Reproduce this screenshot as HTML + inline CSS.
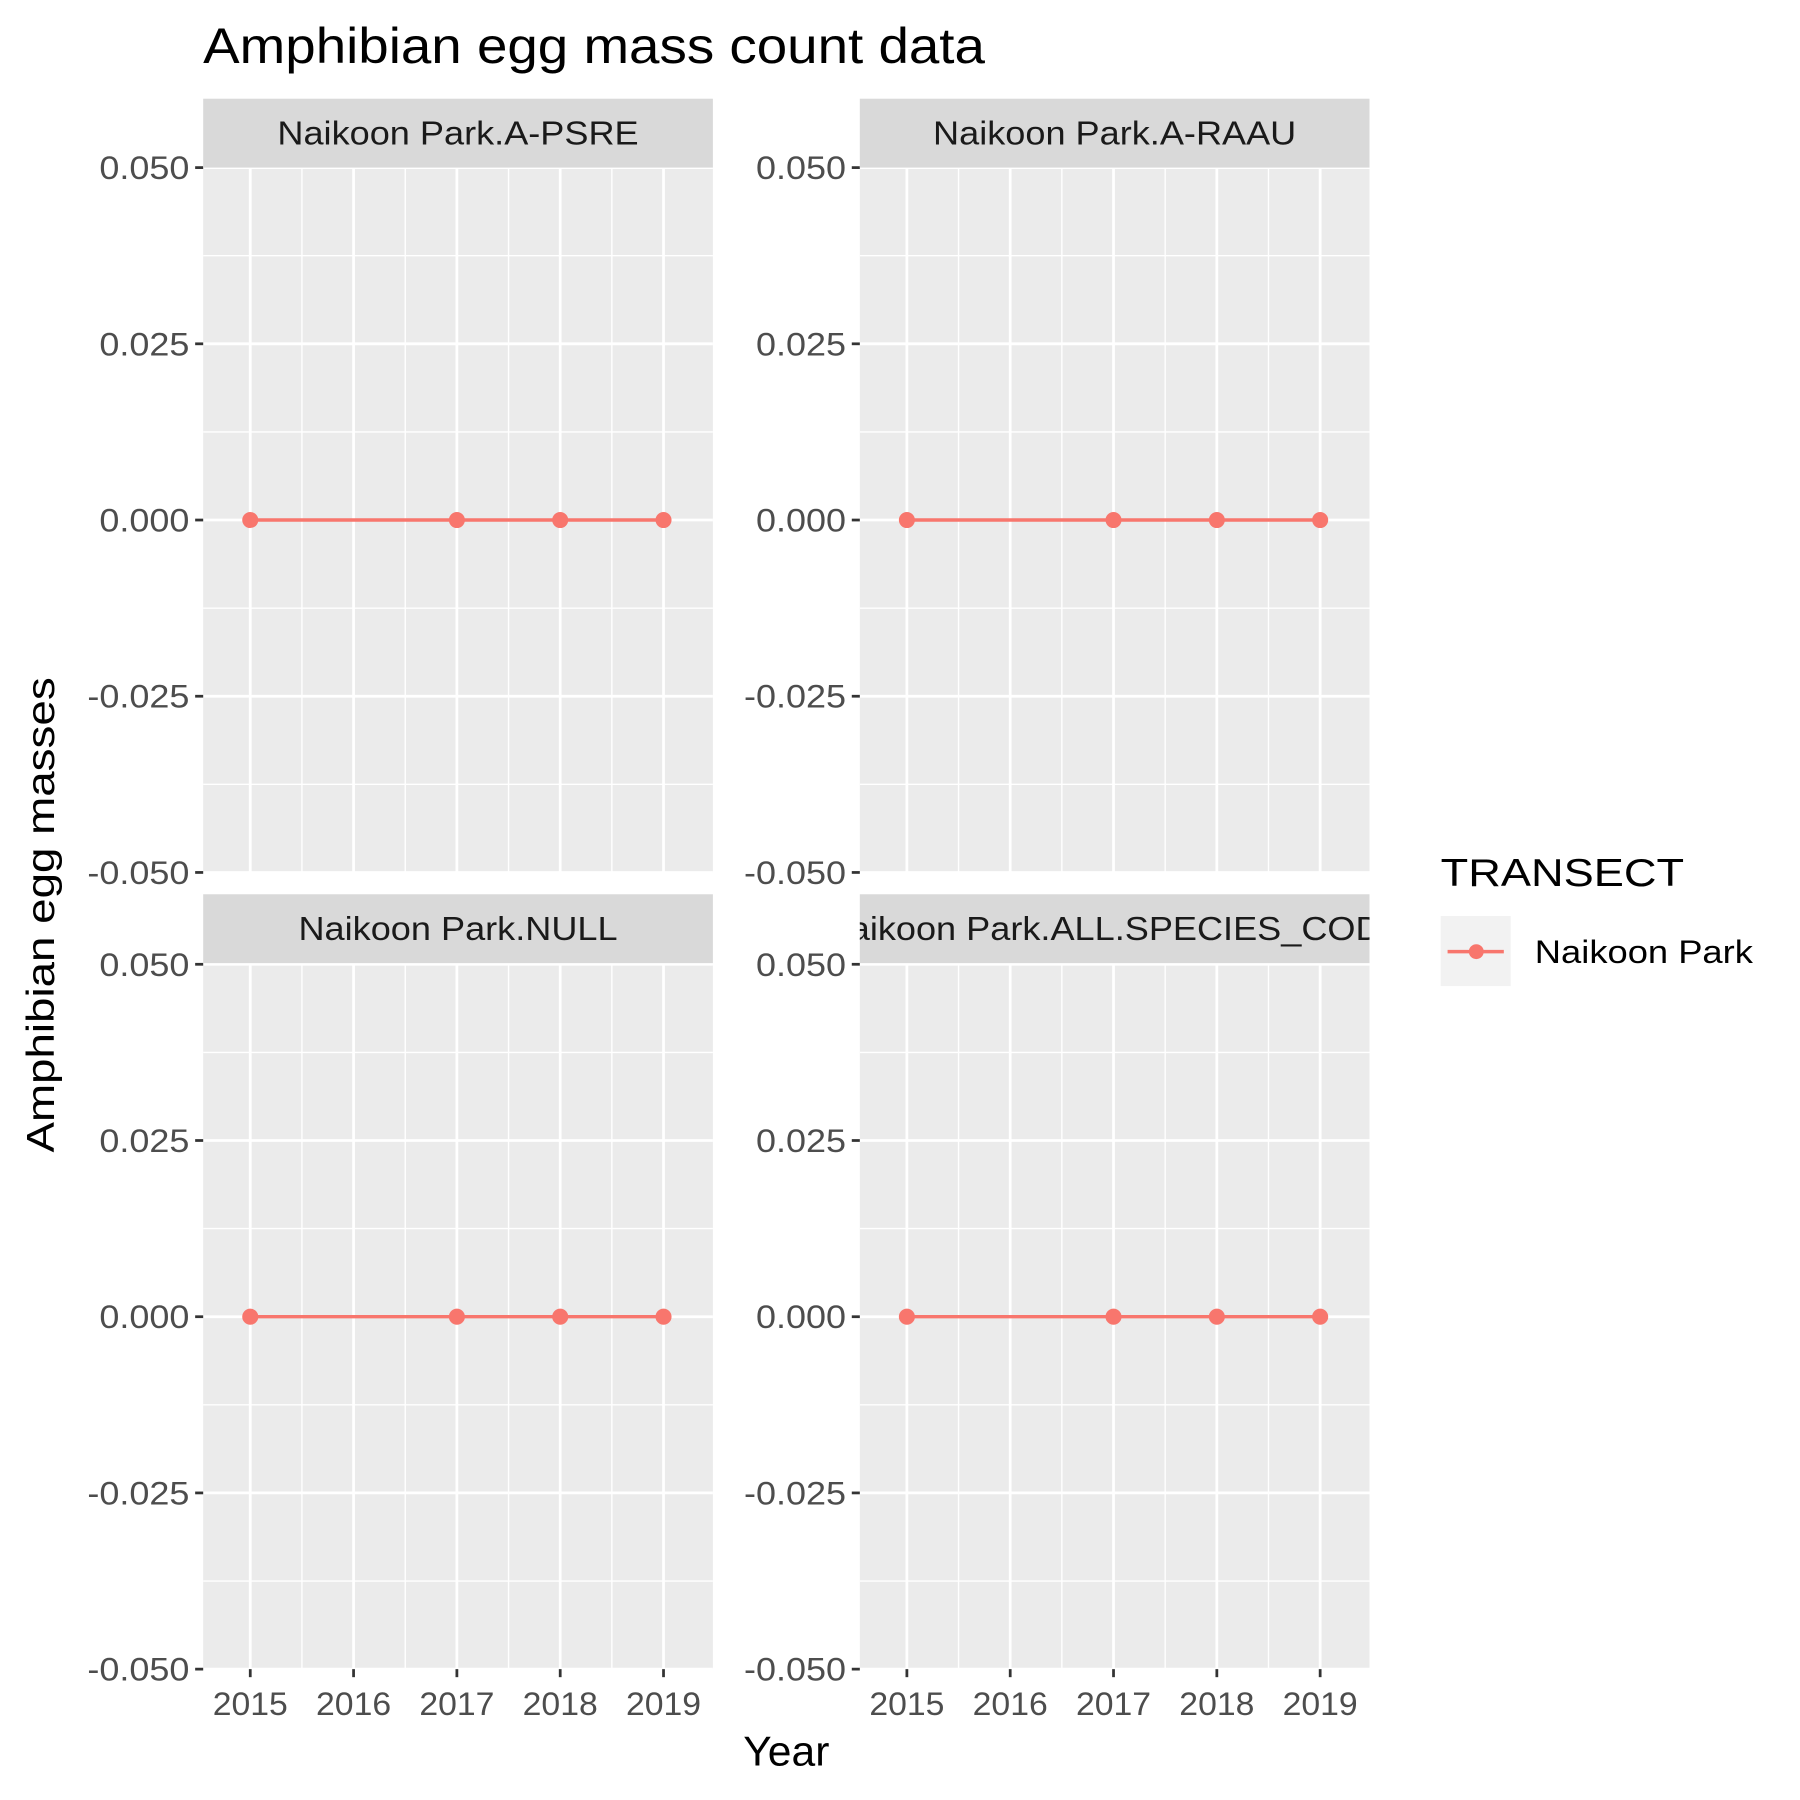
<!DOCTYPE html>
<html><head><meta charset="utf-8"><style>
html,body{margin:0;padding:0;background:#fff}
svg{display:block;font-family:"Liberation Sans",sans-serif}
</style></head><body>
<svg id="chart" width="1800" height="1800" viewBox="0 0 1568 1568" xmlns="http://www.w3.org/2000/svg">
<text x="177" y="55" font-size="44" fill="#000" textLength="681" lengthAdjust="spacingAndGlyphs">Amphibian egg mass count data</text>
<text transform="translate(47,797) rotate(-90)" text-anchor="middle" font-size="34" fill="#000" textLength="414" lengthAdjust="spacingAndGlyphs">Amphibian egg masses</text>
<text x="685" y="1538" text-anchor="middle" font-size="36" fill="#000" textLength="75" lengthAdjust="spacingAndGlyphs">Year</text>
<text x="1255" y="772" font-size="34" fill="#000" textLength="212" lengthAdjust="spacingAndGlyphs">TRANSECT</text>
<g>
<rect x="1255" y="798" width="61" height="61" fill="#f2f2f2"/>
<line x1="1261" y1="829" x2="1310" y2="829" stroke="#F8766D" stroke-width="3"/>
<circle cx="1286" cy="829" r="6.5" fill="#F8766D"/>
<text x="1337" y="839" font-size="28" fill="#000" textLength="190" lengthAdjust="spacingAndGlyphs">Naikoon Park</text>
</g>
<g id="panels"></g>
</svg>
<script>
const panelNames = ["Naikoon Park.A-PSRE","Naikoon Park.A-RAAU","Naikoon Park.NULL","Naikoon Park.ALL.SPECIES_CODE"];
const years = [2015,2017,2018,2019];
const seriesPSRE = [0,0,0,0];
const seriesRAAU = [0,0,0,0];
const seriesNULL = [0,0,0,0];
const seriesALL = [0,0,0,0];
const yTicks = [0.05,0.025,0,-0.025,-0.05];
const yTickLabels = ["0.050","0.025","0.000","-0.025","-0.050"];
const xTicks = [2015,2016,2017,2018,2019];
const allSeries = [seriesPSRE,seriesRAAU,seriesNULL,seriesALL];

const NS="http://www.w3.org/2000/svg";
const g=document.getElementById('panels');
function mk(t,a,p){const e=document.createElementNS(NS,t);for(const k in a)e.setAttribute(k,a[k]);(p||g).appendChild(e);return e;}
function stretch(el,k){const l=el.getComputedTextLength();el.setAttribute('textLength',(l*k).toFixed(1));el.setAttribute('lengthAdjust','spacingAndGlyphs');}
const layout=[{x:177,y:146,s:86},{x:749,y:146,s:86},{x:177,y:840,s:779},{x:749,y:840,s:779}];
const PW=444, PH=614;
layout.forEach((L,i)=>{
  const xs=v=>L.x+41+(v-2015)*90;
  const ys=v=>L.y+PH/2-(v/0.05)*(PH/2);
  const pg=mk('g',{});
  
  
  mk('rect',{x:L.x,y:L.y,width:PW,height:PH,fill:'#ebebeb'},pg);
  for(let k=0;k<4;k++){const yv=(yTicks[k]+yTicks[k+1])/2;mk('line',{x1:L.x,x2:L.x+PW,y1:ys(yv),y2:ys(yv),stroke:'#fff','stroke-width':1.2},pg);}
  for(let k=0;k<4;k++){const xv=xTicks[k]+0.5;mk('line',{x1:xs(xv),x2:xs(xv),y1:L.y,y2:L.y+PH,stroke:'#fff','stroke-width':1.2},pg);}
  yTicks.forEach((t,k)=>{
    mk('line',{x1:L.x,x2:L.x+PW,y1:ys(t),y2:ys(t),stroke:'#fff','stroke-width':2.4},pg);
    mk('line',{x1:L.x-7,x2:L.x,y1:ys(t),y2:ys(t),stroke:'#333','stroke-width':2.4},pg);
    const tx=mk('text',{x:L.x-12,y:ys(t)+10,'text-anchor':'end','font-size':28,fill:'#4d4d4d'},pg);
    tx.textContent=yTickLabels[k];
    
    
    stretch(tx,1.12);
  });
  xTicks.forEach(t=>{
    mk('line',{x1:xs(t),x2:xs(t),y1:L.y,y2:L.y+PH,stroke:'#fff','stroke-width':2.4},pg);
    if(i>=2){
      mk('line',{x1:xs(t),x2:xs(t),y1:L.y+PH,y2:L.y+PH+7,stroke:'#333','stroke-width':2.4},pg);
      const tx=mk('text',{x:xs(t),y:L.y+PH+40,'text-anchor':'middle','font-size':28,fill:'#4d4d4d'},pg);
      tx.textContent=t;
      
      
      stretch(tx,1.05);
    }
  });
  const cp=mk('clipPath',{id:'clip'+i},pg);
  mk('rect',{x:L.x,y:L.s,width:PW,height:60},cp);
  const st=mk('rect',{x:L.x,y:L.s,width:PW,height:60,fill:'#d9d9d9'},pg);
  
  
  const sl=mk('text',{x:L.x+PW/2,y:L.s+40,'text-anchor':'middle','font-size':29,fill:'#1a1a1a','clip-path':'url(#clip'+i+')'},pg);
  sl.textContent=panelNames[i];
  
  
  stretch(sl,1.085);
  const vals=allSeries[i];
  const pts=years.map((y,k)=>xs(y)+','+ys(vals[k])).join(' ');
  const pl=mk('polyline',{points:pts,fill:'none',stroke:'#F8766D','stroke-width':3},pg);
  
  
  years.forEach((y,k)=>{
    const c=mk('circle',{cx:xs(y),cy:ys(vals[k]),r:7,fill:'#F8766D'},pg);
    
    
  });
});
</script>
</body></html>
